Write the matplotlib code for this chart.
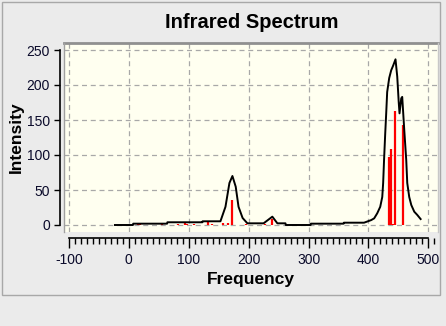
import matplotlib.pyplot as plt
from matplotlib.ticker import MultipleLocator
from matplotlib.patches import Rectangle
from matplotlib.lines import Line2D

plt.rcParams['axes.unicode_minus'] = False

# broadened spectrum (frequency, intensity)
curve_freq = [-23, 7.0, 7.5, 64.0, 64.5, 122.8, 123.3, 153, 161.4, 168, 173, 178.5,
              183.2, 190, 198, 225, 239.6, 248, 261.5, 262, 303.5, 304, 358.5, 359,
              392.6, 404.5, 409.5, 414.6, 419.6, 423, 424.5, 426, 427.9, 429.6, 431.2,
              434.6, 437.9, 441.3, 445.1, 448, 450.5, 451.8, 454.7, 456.3, 459.7, 463,
              464.7, 468, 471.4, 476.4, 481.5, 487]
curve_int = [0, 0, 1.9, 1.9, 3.9, 3.9, 5.3, 5.3, 26, 60, 70, 54.7,
             26, 10, 2.4, 2.4, 11.9, 2.4, 2.4, 0, 0, 1.9, 1.9, 3.3,
             3.3, 7, 9.5, 16.7, 26, 40, 60, 93, 130, 160, 190,
             210, 221, 228, 236.7, 212, 175, 159.5, 181, 183, 135.7, 93,
             60, 40, 28.6, 19, 14.3, 8.5]

# individual normal-mode lines
stick_freq = [15, 18, 56, 83, 93.5, 98, 109, 133, 139.5, 157.5, 165, 173, 196, 226.7,
              239.6, 433.7, 438.2, 441, 444.8, 457]
stick_int = [1.4, 1.2, 1.0, 1.0, 3.8, 1.5, 1.2, 4.0, 1.8, 3.0, 2.5, 35.7, 1.2, 1.2,
             8.0, 97.6, 108.6, 2.0, 163, 143]

ink = '#0a0a2a'
font = ['Liberation Sans', 'DejaVu Sans']

fig = plt.figure(figsize=(4.46, 3.26), dpi=100)
fig.patch.set_facecolor('#ebebeb')
W, H = 446, 326

# outer panel border
fig.add_artist(Rectangle((2 / W, 1 - 295 / H), 438 / W, 293 / H, transform=fig.transFigure,
                         fill=False, edgecolor='#a8a8a8', linewidth=1))

ax = fig.add_axes([64 / W, 94 / H, 374 / W, 189 / H])
ax.set_facecolor('#fffff0')

ax.vlines(stick_freq, 0, stick_int, colors='red', linewidth=1.6, zorder=3)
ax.plot(curve_freq, curve_int, color='black', linewidth=1.4, zorder=4)

ax.set_xlim(-108, 516)
ax.set_ylim(-10, 260)

ax.xaxis.set_major_locator(MultipleLocator(100))
ax.xaxis.set_minor_locator(MultipleLocator(10))
ax.yaxis.set_major_locator(MultipleLocator(50))
ax.grid(True, which='major', color='#a8a8a8', linestyle=(0, (4, 3)), linewidth=0.9)
ax.set_axisbelow(True)

for side in ('top', 'right'):
    ax.spines[side].set_visible(False)
ax.spines['left'].set_position(('outward', 3))
ax.spines['bottom'].set_position(('outward', 4))
ax.spines['left'].set_bounds(0, 250)
ax.spines['bottom'].set_bounds(-100, 500)
ax.spines['left'].set_linewidth(1.2)
ax.spines['bottom'].set_linewidth(1.2)

# panel frame around the plotting area
frame = dict(transform=ax.transAxes, clip_on=False)
ax.add_line(Line2D([0, 1], [1, 1], color='#909090', linewidth=2, **frame))
ax.add_line(Line2D([0, 0], [0, 1], color='#a0a0a0', linewidth=1, **frame))
ax.add_line(Line2D([1, 1], [0, 1], color='#c8c8c8', linewidth=1, **frame))

ax.tick_params(axis='x', which='major', length=7, width=1, direction='out', pad=4,
               labelsize=10, labelcolor=ink)
ax.tick_params(axis='x', which='minor', length=4.5, width=1, direction='out')
ax.tick_params(axis='y', length=4, width=1, direction='out', pad=3,
               labelsize=10, labelcolor=ink)
for lab in ax.get_xticklabels() + ax.get_yticklabels():
    lab.set_family(font)

ax.set_xlabel('Frequency', family=font, fontsize=12.5, fontweight='bold', labelpad=4)
ax.set_ylabel('Intensity', family=font, fontsize=12.5, fontweight='bold', labelpad=2)
fig.text(252 / W, 1 - 22 / H, 'Infrared Spectrum', family=font, fontsize=14.5,
         fontweight='bold', ha='center', va='center')

fig.savefig('out.png', dpi=100, facecolor=fig.get_facecolor())
